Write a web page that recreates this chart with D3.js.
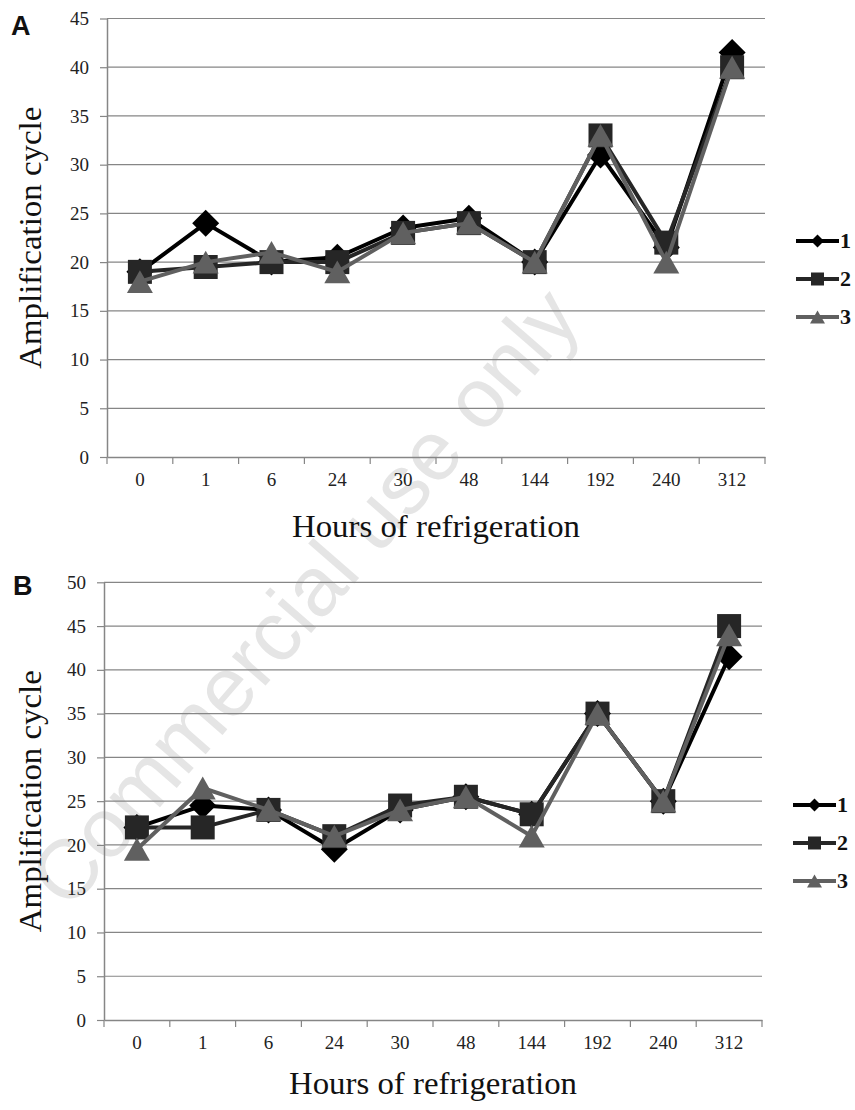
<!DOCTYPE html>
<html><head><meta charset="utf-8">
<script src="https://cdn.jsdelivr.net/npm/d3@7"></script>
<style>
body{margin:0;background:#fff;} svg{display:block;}
.serif{font-family:"Liberation Serif","Times New Roman",Tinos,serif;}
.sans{font-family:"Liberation Sans",Arial,Arimo,sans-serif;}
</style>
</head><body>
<svg id="chart" width="855" height="1110"></svg>
<script>
// ---- data ----
const categories = ["0", "1", "6", "24", "30", "48", "144", "192", "240", "312"];
const seriesNames = ["1", "2", "3"];
const yTicksA = [0, 5, 10, 15, 20, 25, 30, 35, 40, 45];
const yTicksB = [0, 5, 10, 15, 20, 25, 30, 35, 40, 45, 50];
const panelA_s1 = [19, 24, 20, 20.5, 23.5, 24.5, 20, 31, 21.5, 41.5];
const panelA_s2 = [19, 19.5, 20, 20, 23, 24, 20, 33, 22, 40];
const panelA_s3 = [18, 20, 21, 19, 23, 24, 20, 33, 20, 40];
const panelB_s1 = [22, 24.5, 24, 19.5, 24, 25.5, 23.5, 35, 25, 41.5];
const panelB_s2 = [22, 22, 24, 21, 24.5, 25.5, 23.5, 35, 25, 45];
const panelB_s3 = [19.5, 26.5, 24, 21, 24, 25.5, 21, 35, 25, 44];
const xTitle = "Hours of refrigeration";
const yTitle = "Amplification cycle";
const watermarkText = "Commercial use only";

// ---- styles ----
const colors = ["#000000", "#262626", "#606060"];
const markers = ["diamond", "square", "triangle"];
const gridColor = "#868686";

const svg = d3.select("#chart");
svg.append("rect").attr("width", 855).attr("height", 1110).attr("fill", "#fff");

// watermark
svg.append("text").attr("class", "sans")
  .attr("transform", "translate(326,616) rotate(-49)")
  .attr("text-anchor", "middle")
  .style("font-size", "84px")
  .attr("fill", "#e5e5e5")
  .text(watermarkText);

function markerPath(type, s) {
  if (type === "diamond") {
    const r = s / 2;
    return `M0,${-r}L${r},0L0,${r}L${-r},0Z`;
  }
  if (type === "square") {
    const r = s / 2;
    return `M${-r},${-r}H${r}V${r}H${-r}Z`;
  }
  const w = s, h = s * 0.88;
  return `M0,${-h / 2}L${w / 2},${h / 2}L${-w / 2},${h / 2}Z`;
}
const markerSize = [27, 24, 26];
const legendMarkerSize = [13, 13, 15];

function drawPanel(cfg) {
  const x = d3.scaleBand().domain(categories).range([cfg.left, cfg.right]).padding(0);
  const y = d3.scaleLinear().domain([0, cfg.yMax]).range([cfg.bottom, cfg.top]);
  const g = svg.append("g");

  // gridlines
  g.append("g").selectAll("line").data(cfg.yTicks.filter(t => t > 0)).join("line")
    .attr("x1", cfg.left).attr("x2", cfg.right)
    .attr("y1", d => y(d)).attr("y2", d => y(d))
    .attr("stroke", gridColor).attr("stroke-width", 1.2);

  // y axis
  const ya = g.append("g").attr("transform", `translate(${cfg.left},0)`)
    .call(d3.axisLeft(y).tickValues(cfg.yTicks).tickSize(7).tickSizeOuter(0).tickPadding(11));
  ya.attr("font-family", null).attr("font-size", null);
  ya.select(".domain").attr("stroke", gridColor).attr("stroke-width", 1.5);
  ya.selectAll(".tick line").attr("stroke", gridColor).attr("stroke-width", 1.2);
  ya.selectAll(".tick text").attr("class", "serif").style("font-size", "19px").attr("fill", "#222");

  // x axis (labels)
  const xa = g.append("g").attr("transform", `translate(0,${cfg.bottom})`)
    .call(d3.axisBottom(x).tickSize(0).tickSizeOuter(0).tickPadding(cfg.xLabelPad));
  xa.attr("font-family", null).attr("font-size", null);
  xa.select(".domain").attr("stroke", gridColor).attr("stroke-width", 1.5);
  xa.selectAll(".tick text").attr("class", "serif").style("font-size", "19px").attr("fill", "#222");
  // boundary ticks
  const bounds = categories.map(c => x(c)).concat([x(categories[categories.length - 1]) + x.bandwidth()]);
  g.append("g").selectAll("line").data(bounds).join("line")
    .attr("x1", d => d).attr("x2", d => d)
    .attr("y1", cfg.bottom).attr("y2", cfg.bottom + 7)
    .attr("stroke", gridColor).attr("stroke-width", 1.2);

  // series
  const line = d3.line().x((d, i) => x(categories[i]) + x.bandwidth() / 2).y(d => y(d));
  cfg.series.forEach((vals, si) => {
    const sg = g.append("g");
    sg.append("path").datum(vals).attr("d", line)
      .attr("fill", "none").attr("stroke", colors[si]).attr("stroke-width", 4)
      .attr("stroke-linejoin", "round");
    sg.selectAll("path.m").data(vals).join("path").attr("class", "m")
      .attr("transform", (d, i) => `translate(${x(categories[i]) + x.bandwidth() / 2},${y(d)})`)
      .attr("d", markerPath(markers[si], markerSize[si]))
      .attr("fill", colors[si]);
  });

  // legend
  seriesNames.forEach((name, si) => {
    const ly = cfg.legendY[si];
    const lg = g.append("g");
    lg.append("line").attr("x1", cfg.legendX).attr("x2", cfg.legendX + 43)
      .attr("y1", ly).attr("y2", ly).attr("stroke", colors[si]).attr("stroke-width", 4);
    lg.append("path").attr("transform", `translate(${cfg.legendX + 21.5},${ly})`)
      .attr("d", markerPath(markers[si], legendMarkerSize[si])).attr("fill", colors[si]);
    lg.append("text").attr("class", "serif").attr("x", cfg.legendX + 44).attr("y", ly + 7)
      .attr("font-weight", "bold").style("font-size", "22px")
      .attr("fill", "#111").text(name);
  });

  // titles
  g.append("text").attr("class", "serif").attr("x", (cfg.left + cfg.right) / 2).attr("y", cfg.xTitleY)
    .attr("text-anchor", "middle").style("font-size", "31px")
    .attr("textLength", 288).attr("lengthAdjust", "spacingAndGlyphs")
    .attr("fill", "#111").text(xTitle);
  g.append("text").attr("class", "serif")
    .attr("transform", `translate(${cfg.yTitleX},${(cfg.top + cfg.bottom) / 2}) rotate(-90)`)
    .attr("text-anchor", "middle").style("font-size", "31px")
    .attr("textLength", 262).attr("lengthAdjust", "spacingAndGlyphs")
    .attr("fill", "#111").text(yTitle);

  // panel letter
  g.append("text").attr("class", "sans").attr("x", cfg.letterX).attr("y", cfg.letterY)
    .attr("font-weight", "bold").style("font-size", "27px")
    .attr("fill", "#111").text(cfg.letter);
}

drawPanel({
  letter: "A", letterX: 11, letterY: 35,
  left: 107, right: 765, top: 18.5, bottom: 457, yMax: 45, yTicks: yTicksA,
  series: [panelA_s1, panelA_s2, panelA_s3],
  legendX: 796, legendY: [241, 279, 317],
  xLabelPad: 16, xTitleY: 537, yTitleX: 41
});
drawPanel({
  letter: "B", letterX: 13, letterY: 595,
  left: 104, right: 762, top: 582.3, bottom: 1020, yMax: 50, yTicks: yTicksB,
  series: [panelB_s1, panelB_s2, panelB_s3],
  legendX: 793, legendY: [805, 843, 881],
  xLabelPad: 16, xTitleY: 1094, yTitleX: 41
});
</script>
</body></html>
